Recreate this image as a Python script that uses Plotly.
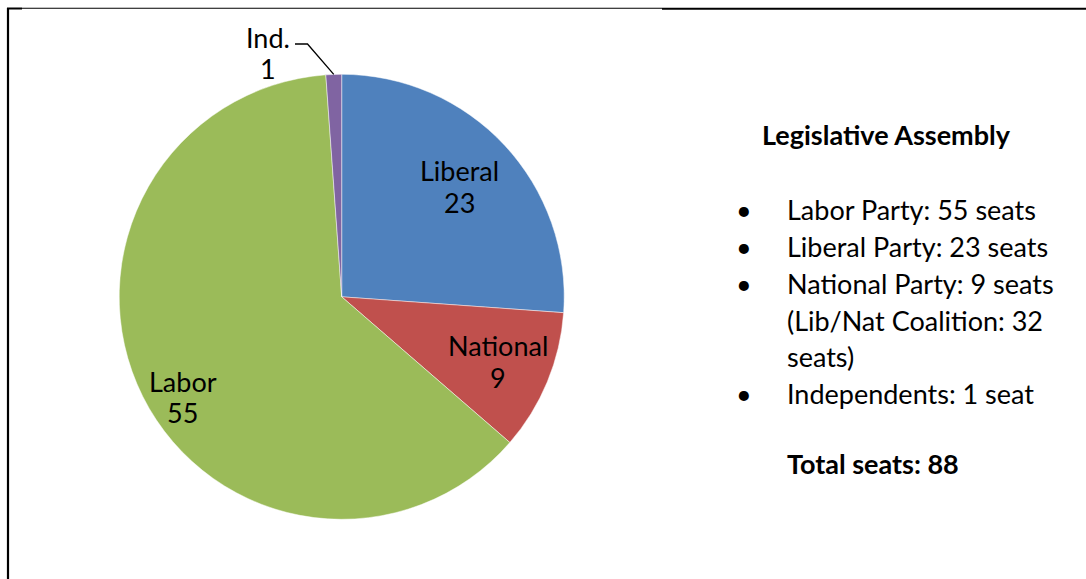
import math
import plotly.graph_objects as go

# Legislative Assembly seat counts, in the order drawn clockwise from 12 o'clock
parties = ["Liberal", "National", "Labor", "Ind."]
seats = [23, 9, 55, 1]
colors = ["#4F81BD", "#C0504D", "#9BBB59", "#8064A2"]

summary_title = "Legislative Assembly"
summary_lines = [
    ("•", "Labor Party: 55 seats"),
    ("•", "Liberal Party: 23 seats"),
    ("•", "National Party: 9 seats"),
    ("", "(Lib/Nat Coalition: 32"),
    ("", "seats)"),
    ("•", "Independents: 1 seat"),
]
summary_total = "Total seats: 88"

W, H = 1086, 579
FONT = "Lato"
FS = 27

# pie geometry in pixels
cx, cy, R = 341.7, 296.8, 222.5

# label placement per slice: radial fraction and pixel nudge
label_frac = {"Liberal": 0.726, "National": 0.759, "Labor": 0.844}
label_nudge = {"Liberal": (0, 0), "National": (0, 0), "Labor": (9, 16)}
LINE_GAP = 31.5


def px(x):
    return x / W


def py(y):
    return 1 - y / H


fig = go.Figure(
    go.Pie(
        labels=parties,
        values=seats,
        sort=False,
        direction="clockwise",
        rotation=0,
        marker=dict(colors=colors, line=dict(color="rgba(255,255,255,0.6)", width=0.8)),
        textinfo="none",
        hoverinfo="label+value",
        showlegend=False,
        domain=dict(x=[px(cx - R), px(cx + R)], y=[py(cy + R), py(cy - R)]),
    )
)

annotations = []
total = sum(seats)
cum = 0
for name, val in zip(parties, seats):
    mid = (cum + val / 2) / total * 2 * math.pi
    cum += val
    if name in label_frac:
        f = label_frac[name]
        nx, ny = label_nudge[name]
        lx = cx + f * R * math.sin(mid) + nx
        ly = cy - f * R * math.cos(mid) + ny
        for txt, off in ((name, -LINE_GAP / 2), (str(val), LINE_GAP / 2)):
            annotations.append(dict(
                x=px(lx), y=py(ly + off), xref="paper", yref="paper",
                text=txt, showarrow=False, xanchor="center", yanchor="middle",
                font=dict(family=FONT, size=FS, color="black"),
            ))
    else:
        # small slice: label outside with a leader line to the rim
        ex = cx + R * math.sin(mid)
        ey = cy - R * math.cos(mid)
        lx, ly = 268, 53
        for txt, off in ((name, -LINE_GAP / 2), (str(val), LINE_GAP / 2)):
            annotations.append(dict(
                x=px(lx), y=py(ly + off), xref="paper", yref="paper",
                text=txt, showarrow=False, xanchor="center", yanchor="middle",
                font=dict(family=FONT, size=FS, color="black"),
            ))
        leader = dict(
            type="path", xref="paper", yref="paper",
            path=f"M {px(295)},{py(44)} L {px(307.5)},{py(44)} L {px(ex)},{py(ey)}",
            line=dict(color="black", width=1.3),
        )

# summary text block on the right
annotations.append(dict(
    x=px(760), y=py(135), xref="paper", yref="paper", text=f"<b>{summary_title}</b>",
    showarrow=False, xanchor="left", yanchor="middle",
    font=dict(family=FONT, size=FS, color="black"),
))
y0, step = 210, 36.7
for i, (bullet, txt) in enumerate(summary_lines):
    yy = y0 + i * step
    if bullet:
        annotations.append(dict(
            x=px(744), y=py(yy), xref="paper", yref="paper", text=bullet,
            showarrow=False, xanchor="center", yanchor="middle",
            font=dict(family=FONT, size=FS, color="black"),
        ))
    annotations.append(dict(
        x=px(785), y=py(yy), xref="paper", yref="paper", text=txt,
        showarrow=False, xanchor="left", yanchor="middle",
        font=dict(family=FONT, size=FS, color="black"),
    ))
annotations.append(dict(
    x=px(785), y=py(463.5), xref="paper", yref="paper", text=f"<b>{summary_total}</b>",
    showarrow=False, xanchor="left", yanchor="middle",
    font=dict(family=FONT, size=FS, color="black"),
))

# frame lines around the chart area
shapes = [
    leader,
    dict(type="line", xref="paper", yref="paper", x0=px(8), x1=px(8), y0=py(8), y1=py(H + 2),
         line=dict(color="black", width=2.2)),
    dict(type="line", xref="paper", yref="paper", x0=px(7), x1=px(22), y0=py(8.5), y1=py(8.5),
         line=dict(color="black", width=2)),
    dict(type="line", xref="paper", yref="paper", x0=px(22), x1=px(662), y0=py(8.3), y1=py(8.3),
         line=dict(color="black", width=1.1)),
    dict(type="line", xref="paper", yref="paper", x0=px(662), x1=px(W + 2), y0=py(8.7), y1=py(8.7),
         line=dict(color="black", width=2)),
]

fig.update_layout(
    width=W, height=H,
    margin=dict(l=0, r=0, t=0, b=0),
    paper_bgcolor="white", plot_bgcolor="white",
    annotations=annotations, shapes=shapes,
)

fig.write_html("out.html")
